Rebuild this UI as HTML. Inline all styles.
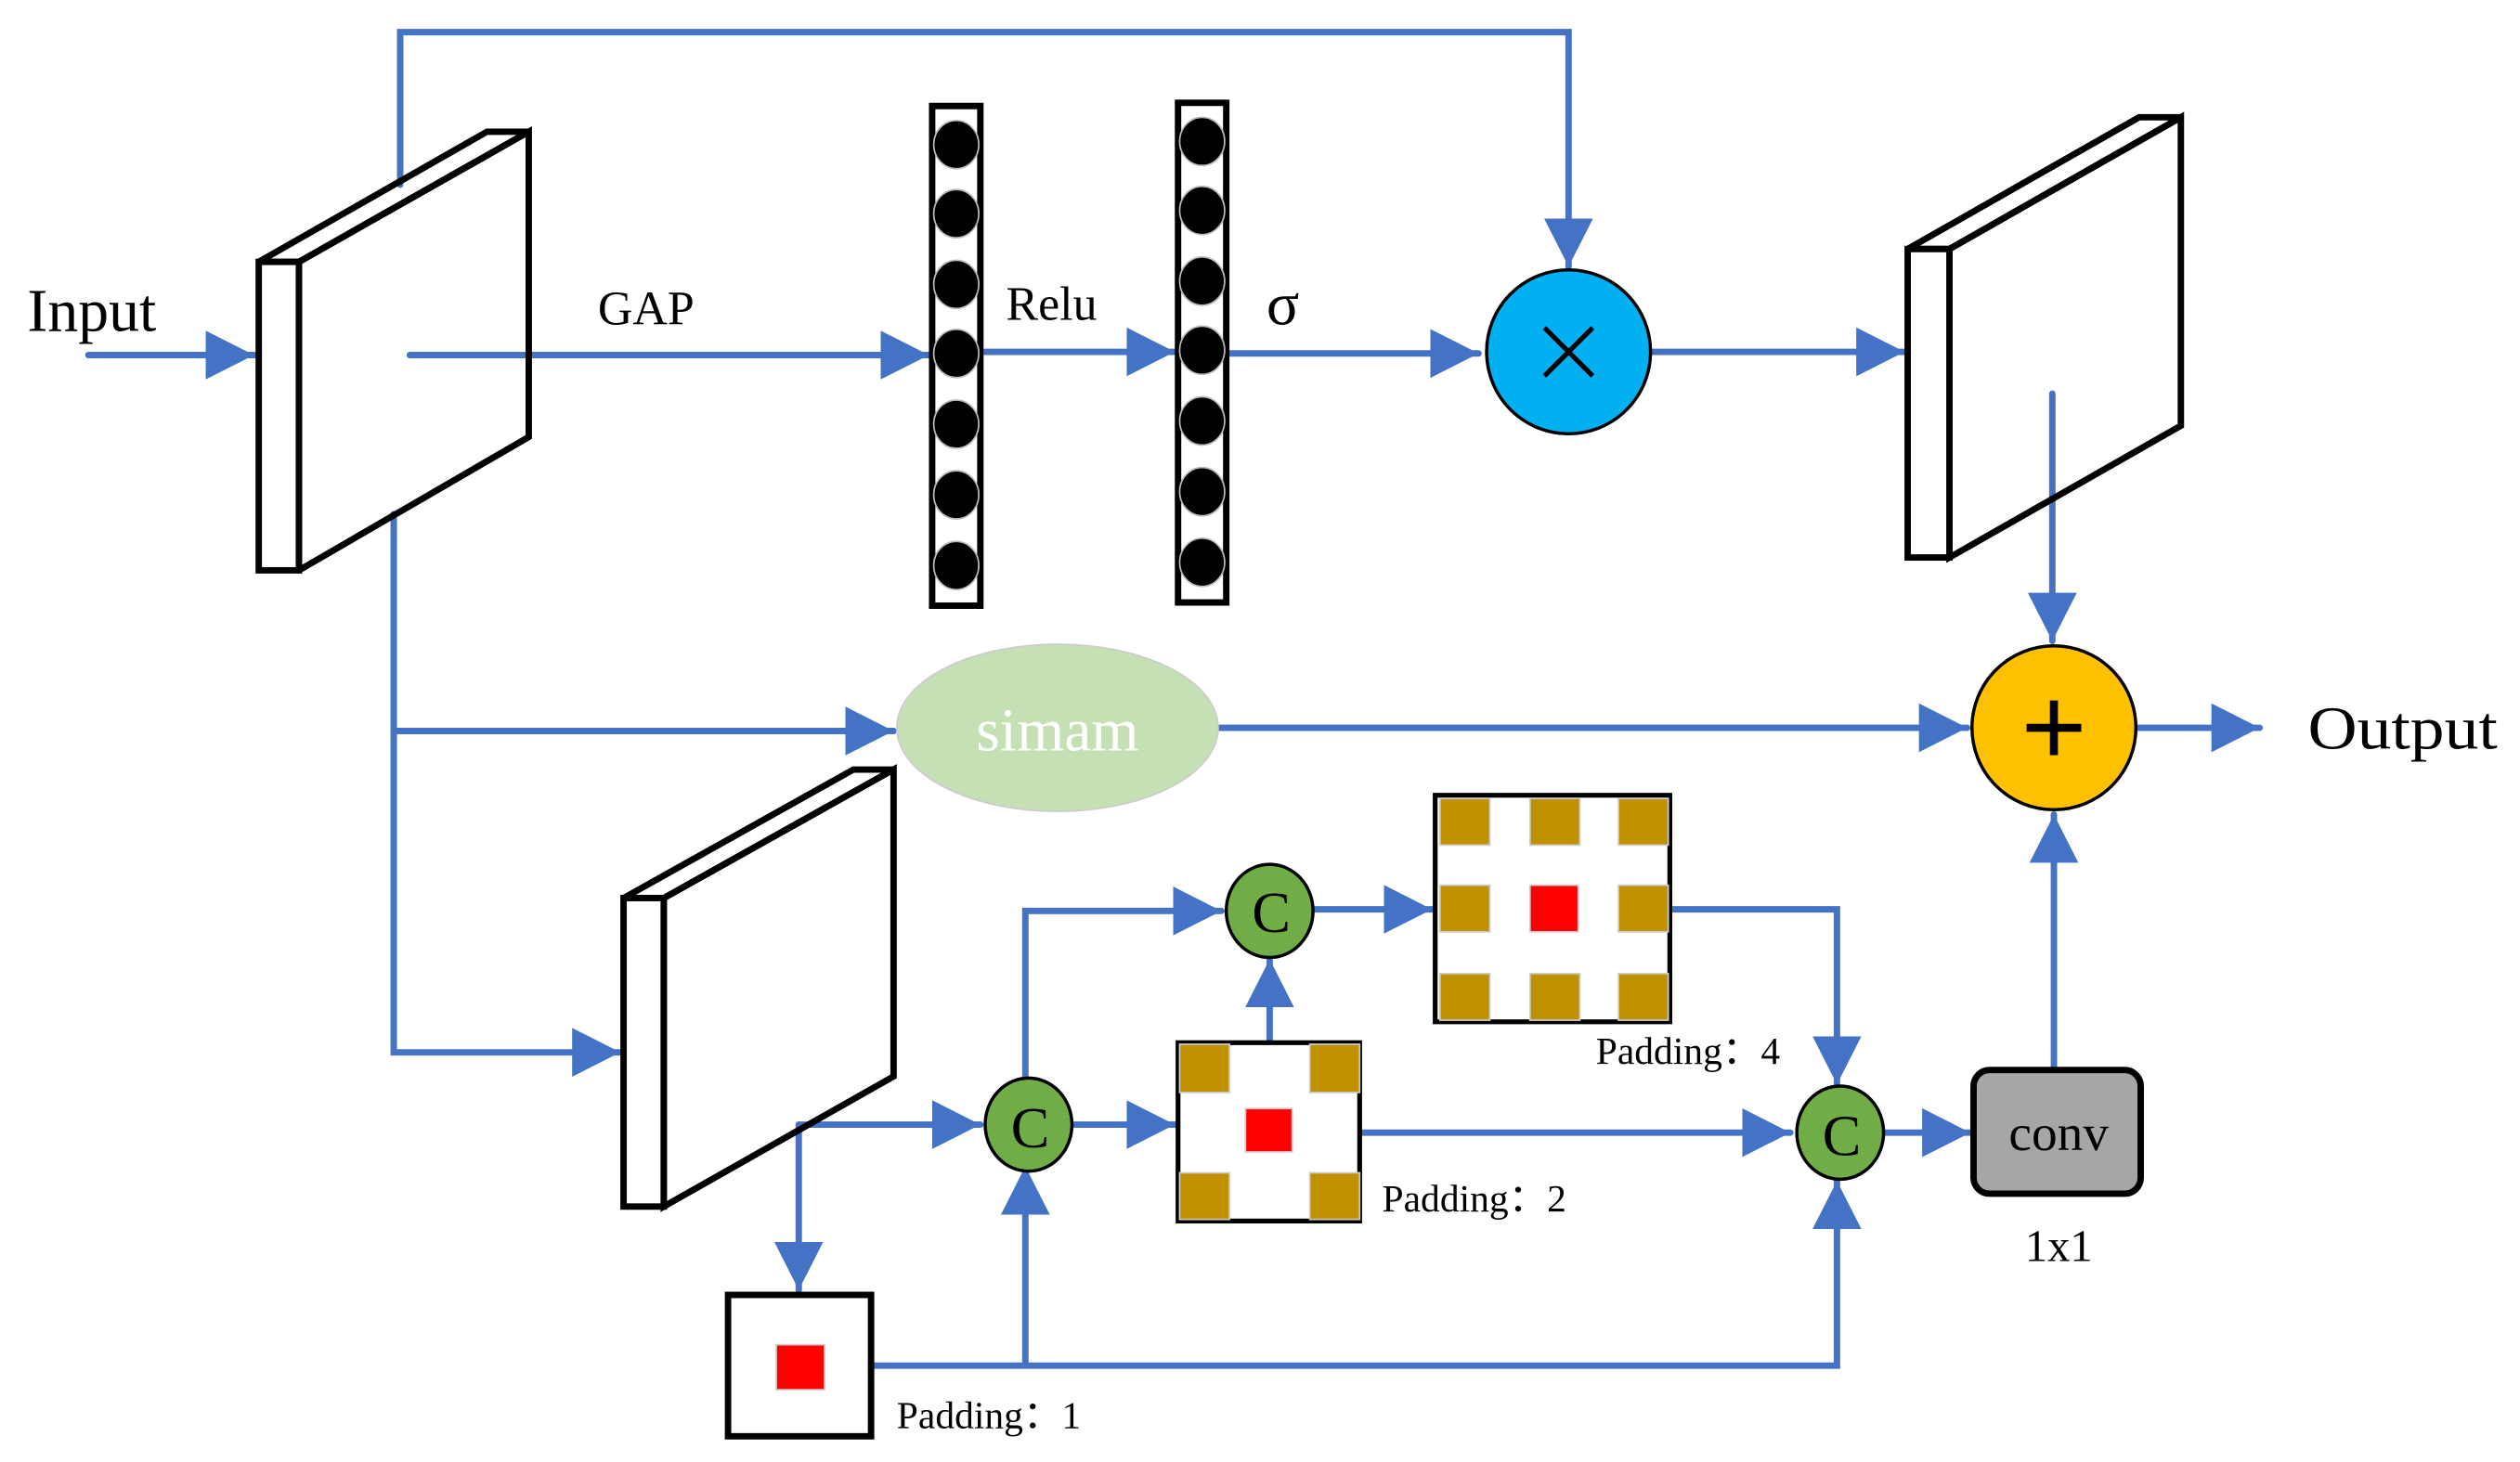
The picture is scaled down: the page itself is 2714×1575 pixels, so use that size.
<!DOCTYPE html>
<html><head><style>html,body{margin:0;padding:0;background:#fff}svg{display:block}</style></head><body>
<svg width="2714" height="1575" viewBox="0 0 1568 910" preserveAspectRatio="none" xmlns="http://www.w3.org/2000/svg" font-family="Liberation Serif, serif">
<defs>
<marker id="a" markerWidth="8" markerHeight="8" refX="7.5" refY="4" orient="auto" markerUnits="strokeWidth"><path d="M0,0.2 L7.5,4 L0,7.8 Z" fill="#4472C4"/></marker>
</defs>
<g stroke="#4472C4" stroke-width="4" fill="none" stroke-linecap="round">
<path d="M55,221 H158" marker-end="url(#a)"/>
<path d="M249,115 V20 H976 V166" marker-end="url(#a)"/>
<path d="M255,221 H578" marker-end="url(#a)"/>
<path d="M611,219 H731" marker-end="url(#a)"/>
<path d="M764,220 H920" marker-end="url(#a)"/>
<path d="M1028,219 H1185" marker-end="url(#a)"/>
<path d="M1277,245 V399" marker-end="url(#a)"/>
<path d="M1330,453 H1406" marker-end="url(#a)"/>
<path d="M245,320 V655 H386" marker-end="url(#a)"/>
<path d="M245,455 H556" marker-end="url(#a)"/>
<path d="M758,453 H1224" marker-end="url(#a)"/>
<path d="M497,700 H610" marker-end="url(#a)"/>
<path d="M497,700 V803" marker-end="url(#a)"/>
<path d="M542,850 H1143 V735" marker-end="url(#a)"/>
<path d="M638,850 V726" marker-end="url(#a)"/>
<path d="M668,700 H731" marker-end="url(#a)"/>
<path d="M638,672 V567 H760" marker-end="url(#a)"/>
<path d="M790,649 V597" marker-end="url(#a)"/>
<path d="M846,705 H1114" marker-end="url(#a)"/>
<path d="M818,566 H891" marker-end="url(#a)"/>
<path d="M1039,566 H1143 V675" marker-end="url(#a)"/>
<path d="M1172,705 H1226" marker-end="url(#a)"/>
<path d="M1278,666 V507" marker-end="url(#a)"/>
</g>
<g stroke="#000" stroke-width="4" fill="#fff" stroke-linejoin="miter-clip" stroke-miterlimit="2">
<path d="M186,163 L329,82 V272 L186,355 Z" fill="none"/>
<path d="M161,163 L303,82 H329 L186,163 Z" fill="none"/>
<rect x="161" y="163" width="25" height="192"/>
<path d="M1213,155 L1357,73 V265 L1213,347 Z" fill="none"/>
<path d="M1187,155 L1331,73 H1357 L1213,155 Z" fill="none"/>
<rect x="1187" y="155" width="26" height="192"/>
<path d="M413,559 L556,479 V670 L413,751 Z" fill="none"/>
<path d="M388,559 L531,479 H556 L413,559 Z" fill="none"/>
<rect x="388" y="559" width="25" height="192"/>
<rect x="580" y="66" width="30" height="311"/>
<rect x="733" y="64" width="30" height="311"/>
</g>
<g fill="#000" stroke="#bbb" stroke-width="1">
<ellipse cx="595" cy="90" rx="14" ry="15"/><ellipse cx="595" cy="133" rx="14" ry="15"/><ellipse cx="595" cy="177" rx="14" ry="15"/><ellipse cx="595" cy="220" rx="14" ry="15"/><ellipse cx="595" cy="264" rx="14" ry="15"/><ellipse cx="595" cy="308" rx="14" ry="15"/><ellipse cx="595" cy="352" rx="14" ry="15"/>
<ellipse cx="748" cy="88" rx="14" ry="15"/><ellipse cx="748" cy="131" rx="14" ry="15"/><ellipse cx="748" cy="175" rx="14" ry="15"/><ellipse cx="748" cy="218" rx="14" ry="15"/><ellipse cx="748" cy="262" rx="14" ry="15"/><ellipse cx="748" cy="306" rx="14" ry="15"/><ellipse cx="748" cy="350" rx="14" ry="15"/>
</g>
<circle cx="976" cy="219" r="51" fill="#00B0F0" stroke="#000" stroke-width="2"/>
<path d="M961,204 L991,234 M991,204 L961,234" stroke="#000" stroke-width="3"/>
<circle cx="1278" cy="453" r="51" fill="#FFC000" stroke="#000" stroke-width="2"/>
<path d="M1261,453 H1295 M1278,436 V470" stroke="#000" stroke-width="5"/>
<ellipse cx="658" cy="453" rx="100" ry="52" fill="#C5E0B4" stroke="#ccc" stroke-width="1"/>
<text x="658" y="467" font-size="38" fill="#fff" text-anchor="middle">simam</text>
<rect x="453" y="806" width="89" height="88" fill="#fff" stroke="#000" stroke-width="4"/>
<rect x="483" y="837" width="30" height="28" fill="#f00" stroke="#ccc" stroke-width="1"/>
<rect x="733" y="649" width="113" height="111" fill="#fff" stroke="#000" stroke-width="3"/>
<g fill="#BF9000" stroke="#ccc" stroke-width="1">
<rect x="734" y="650" width="31" height="30"/><rect x="815" y="650" width="31" height="30"/>
<rect x="734" y="730" width="31" height="29"/><rect x="815" y="730" width="31" height="29"/>
</g>
<rect x="775" y="690" width="29" height="27" fill="#f00" stroke="#ccc" stroke-width="1"/>
<rect x="893" y="495" width="146" height="141" fill="#fff" stroke="#000" stroke-width="3"/>
<g fill="#BF9000" stroke="#ccc" stroke-width="1">
<rect x="896" y="497" width="31" height="29"/><rect x="952" y="497" width="31" height="29"/><rect x="1007" y="497" width="31" height="29"/>
<rect x="896" y="551" width="31" height="29"/><rect x="1007" y="551" width="31" height="29"/>
<rect x="896" y="606" width="31" height="29"/><rect x="952" y="606" width="31" height="29"/><rect x="1007" y="606" width="31" height="29"/>
</g>
<rect x="952" y="551" width="30" height="29" fill="#f00" stroke="#ccc" stroke-width="1"/>
<g fill="#70AD47" stroke="#000" stroke-width="2">
<ellipse cx="640" cy="700" rx="27" ry="29"/><ellipse cx="790" cy="567" rx="27" ry="29"/><ellipse cx="1145" cy="705" rx="27" ry="29"/>
</g>
<g font-size="36" text-anchor="middle" fill="#000">
<text x="641" y="714">C</text><text x="791" y="580">C</text><text x="1146" y="719">C</text>
</g>
<rect x="1228" y="666" width="104" height="77" rx="10" fill="#A6A6A6" stroke="#000" stroke-width="4"/>
<g fill="#000">
<text x="1281" y="716" font-size="32" text-anchor="middle">conv</text>
<text x="1281" y="785" font-size="28" text-anchor="middle">1x1</text>
<text x="17" y="206" font-size="38">Input</text>
<text x="372" y="202" font-size="30">GAP</text>
<text x="626" y="199" font-size="30">Relu</text>
<text x="788" y="202" font-size="38">σ</text>
<text x="1436" y="466" font-size="38" textLength="118" lengthAdjust="spacingAndGlyphs">Output</text>
<text x="993" y="662" font-size="24">Padding：4</text>
<text x="860" y="754" font-size="24">Padding：2</text>
<text x="558" y="889" font-size="24">Padding：1</text>
</g>
</svg>
</body></html>
